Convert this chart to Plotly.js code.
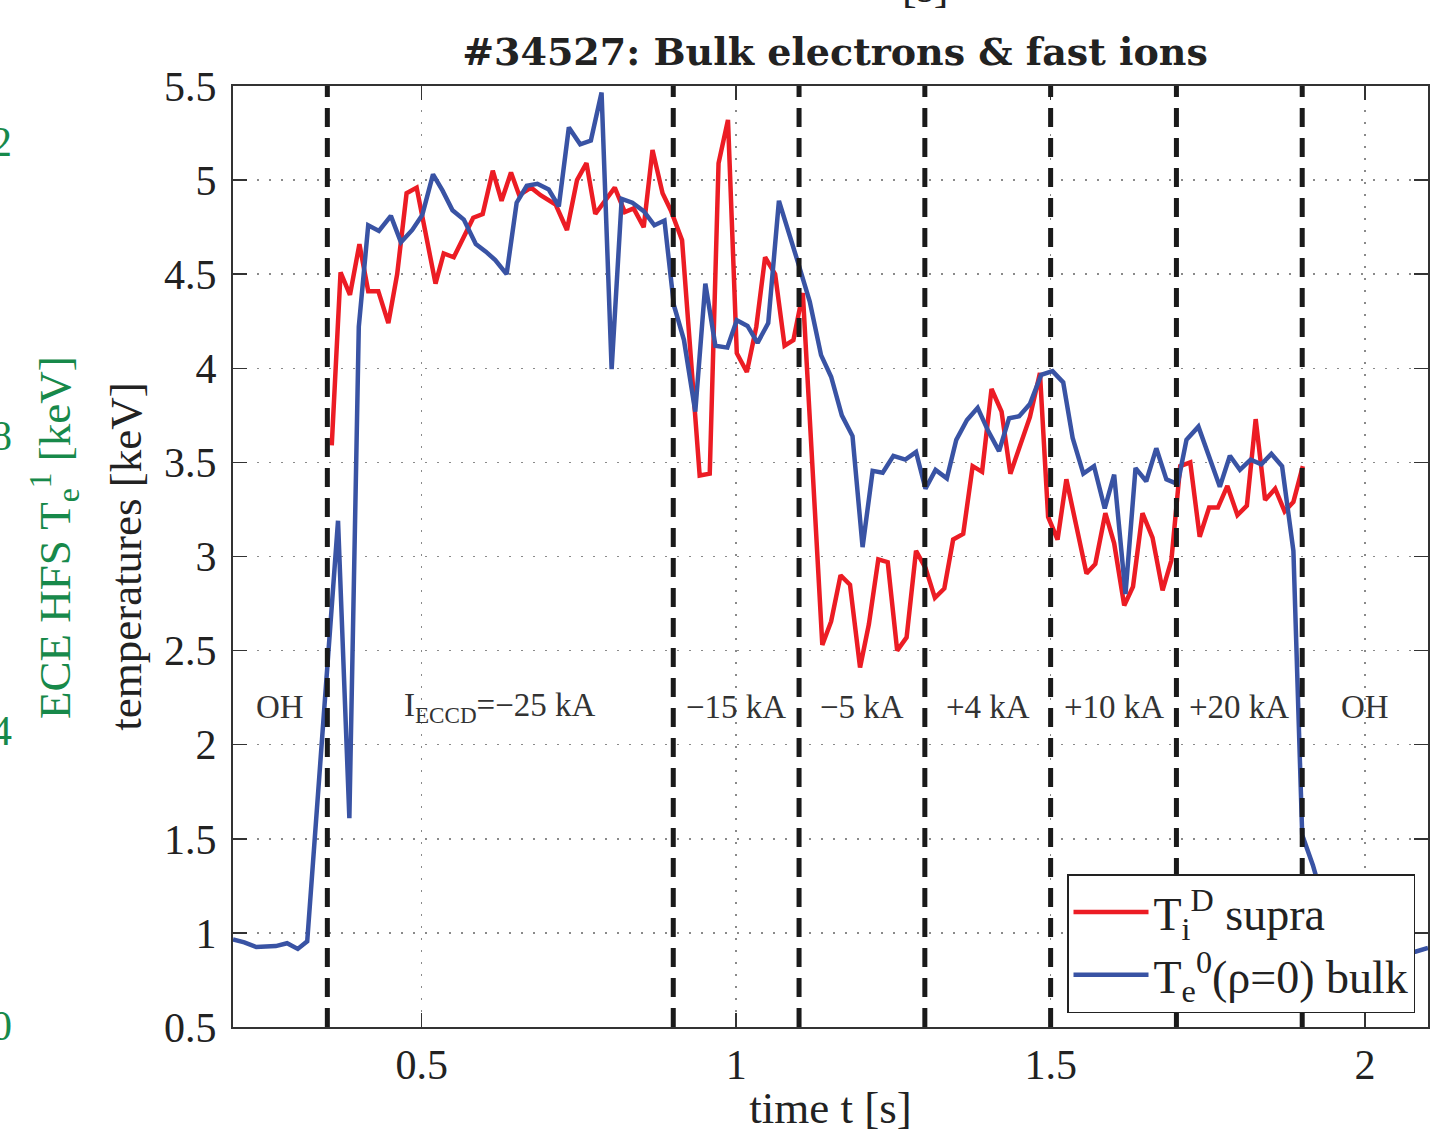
<!DOCTYPE html>
<html>
<head>
<meta charset="utf-8">
<script src="https://cdn.plot.ly/plotly-3.0.1.min.js"></script>
<style>html,body{margin:0;padding:0;background:#fff;}#chart{width:1437px;height:1133px;}</style>
</head>
<body>
<div id="chart"></div>
<script>
// ---- data ----
const ionTime = [0.357,0.371,0.386,0.401,0.415,0.431,0.447,0.461,0.476,0.492,0.522,0.535,0.551,0.582,0.597,0.613,0.627,0.642,0.655,0.674,0.689,0.713,0.731,0.747,0.762,0.776,0.807,0.823,0.837,0.853,0.867,0.883,0.896,0.914,0.942,0.958,0.972,0.987,1.001,1.017,1.032,1.046,1.062,1.077,1.091,1.106,1.137,1.151,1.166,1.181,1.197,1.211,1.226,1.241,1.256,1.271,1.286,1.301,1.316,1.331,1.345,1.361,1.376,1.391,1.406,1.422,1.436,1.467,1.483,1.496,1.511,1.525,1.557,1.571,1.587,1.601,1.617,1.631,1.646,1.662,1.678,1.692,1.706,1.722,1.737,1.752,1.766,1.781,1.797,1.812,1.826,1.841,1.857,1.872,1.886,1.901];
const ionTemp = [3.59,4.51,4.39,4.66,4.41,4.41,4.24,4.50,4.93,4.96,4.45,4.61,4.59,4.80,4.82,5.05,4.89,5.04,4.92,4.96,4.92,4.87,4.735,5.00,5.09,4.82,4.96,4.83,4.85,4.75,5.16,4.93,4.84,4.68,3.43,3.44,5.09,5.32,4.08,3.98,4.22,4.59,4.50,4.12,4.15,4.40,2.53,2.655,2.90,2.85,2.41,2.64,2.985,2.97,2.50,2.57,3.03,2.94,2.78,2.83,3.09,3.12,3.48,3.45,3.89,3.77,3.44,3.74,3.975,3.21,3.09,3.41,2.91,2.96,3.23,3.07,2.74,2.84,3.23,3.10,2.82,2.98,3.48,3.50,3.105,3.26,3.26,3.375,3.22,3.27,3.73,3.30,3.36,3.24,3.29,3.48];

const elecTime = [0.200,0.218,0.237,0.253,0.268,0.286,0.303,0.318,0.367,0.385,0.400,0.415,0.432,0.451,0.467,0.485,0.501,0.518,0.533,0.549,0.567,0.586,0.602,0.617,0.635,0.651,0.667,0.684,0.702,0.718,0.734,0.752,0.769,0.786,0.802,0.818,0.835,0.853,0.870,0.886,0.901,0.917,0.935,0.951,0.967,0.986,1.001,1.018,1.034,1.051,1.068,1.099,1.117,1.135,1.151,1.168,1.185,1.201,1.217,1.233,1.250,1.269,1.286,1.301,1.317,1.335,1.350,1.367,1.384,1.401,1.418,1.434,1.450,1.467,1.485,1.503,1.520,1.535,1.552,1.569,1.586,1.601,1.619,1.635,1.652,1.668,1.684,1.702,1.716,1.735,1.769,1.785,1.801,1.818,1.835,1.851,1.868,1.886,1.900,1.917,1.935,1.955,1.980,2.020,2.060,2.080,2.100];
const elecTemp = [0.965,0.95,0.925,0.93,0.93,0.945,0.915,0.955,3.19,1.61,4.22,4.76,4.73,4.81,4.67,4.735,4.815,5.03,4.945,4.84,4.79,4.66,4.62,4.575,4.50,4.88,4.97,4.98,4.95,4.86,5.28,5.19,5.21,5.465,3.995,4.90,4.88,4.835,4.76,4.785,4.335,4.15,3.77,4.45,4.12,4.11,4.255,4.225,4.135,4.24,4.89,4.555,4.355,4.07,3.955,3.75,3.64,3.05,3.455,3.445,3.535,3.515,3.555,3.36,3.46,3.415,3.62,3.725,3.79,3.665,3.56,3.735,3.745,3.81,3.965,3.985,3.925,3.63,3.44,3.48,3.255,3.435,2.80,3.47,3.40,3.575,3.41,3.385,3.62,3.69,3.37,3.535,3.46,3.515,3.49,3.545,3.48,3.03,1.52,1.36,1.15,0.97,0.92,0.90,0.90,0.90,0.92];

const phaseBoundaries = [0.35, 0.9, 1.1, 1.3, 1.5, 1.7, 1.9];
const phaseLabels = ["OH", "I<sub>ECCD</sub>=\u221225 kA", "\u221215 kA", "\u22125 kA", "+4 kA", "+10 kA", "+20 kA", "OH"];
const xTickVals = [0.5, 1, 1.5, 2];
const xTickText = ["0.5", "1", "1.5", "2"];
const yTickVals = [0.5,1,1.5,2,2.5,3,3.5,4,4.5,5,5.5];
const yTickText = ["0.5","1","1.5","2","2.5","3","3.5","4","4.5","5","5.5"];
const eceTickVals = [0, 4, 8, 12];
const eceTickText = ["0", "4", "8", "12"];
const xRange = [0.2, 2.1];
const yRange = [0.5, 5.5];

// ---- layout helpers ----
const W = 1437, H = 1133;
const M = {l: 12, r: 9, t: 86, b: 106};
const pw = W - M.l - M.r, ph = H - M.t - M.b;
const px2x = p => (p - M.l) / pw;
const py2y = p => (H - M.b - p) / ph;

const FONT = "Liberation Serif, Times New Roman, serif";
const TXT = "#222";
const GREEN = "#17894a";

const traces = [
  {x: ionTime, y: ionTemp, type: "scatter", mode: "lines", name: "T<sub>i</sub><sup>D</sup> supra",
   line: {color: "#ec1c24", width: 4.5}},
  {x: elecTime, y: elecTemp, type: "scatter", mode: "lines", name: "T<sub>e</sub><sup>0</sup>(\u03c1=0) bulk",
   line: {color: "#3953a4", width: 4.5}},
  {x: [], y: [], type: "scatter", mode: "lines", yaxis: "y2", showlegend: false, hoverinfo: "skip"}
];

const shapes = phaseBoundaries.map(b => ({
  type: "line", xref: "x", yref: "paper", x0: b, x1: b, y0: 0, y1: 1,
  line: {color: "#1a1a1a", width: 5, dash: "19px,11px"}, layer: "above"
}));

// phase labels centred between boundaries
const edges = [xRange[0]].concat(phaseBoundaries, [xRange[1]]);
const annotations = phaseLabels.map((t, i) => ({
  x: (edges[i] + edges[i+1]) / 2, y: 2.2, xref: "x", yref: "y",
  text: t, showarrow: false, xanchor: "center", yanchor: "middle",
  font: {family: FONT, size: 33, color: "#333"}
}));
annotations.push({
  xref: "paper", yref: "paper", x: px2x(54), y: py2y(538), textangle: -90,
  text: "ECE HFS T<sub>e</sub><sup>1</sup> [keV]", showarrow: false,
  xanchor: "center", yanchor: "middle", font: {family: FONT, size: 45, color: GREEN}
});
annotations.push({
  xref: "paper", yref: "paper", x: px2x(925), y: py2y(14), yanchor: "bottom", xanchor: "center",
  text: "[s]", showarrow: false, font: {family: FONT, size: 44, color: TXT}
});

const layout = {
  width: W, height: H,
  margin: M,
  paper_bgcolor: "#fff", plot_bgcolor: "#fff",
  showlegend: true,
  title: {text: "#34527: Bulk electrons & fast ions", xref: "container", yref: "container",
          x: 835 / W, y: 1 - 52 / H, xanchor: "center", yanchor: "middle",
          font: {family: "DejaVu Serif, serif", size: 38, color: TXT, weight: "bold"}},
  xaxis: {
    domain: [px2x(233), 1], range: xRange, tickmode: "array", tickvals: xTickVals, ticktext: xTickText,
    showline: true, linecolor: "#333", linewidth: 2, mirror: "ticks",
    ticks: "inside", ticklen: 14, tickwidth: 1.5, tickcolor: "#333",
    showgrid: true, gridcolor: "#8a8a8a", gridwidth: 1.5, griddash: "2px,10px",
    zeroline: false, ticklabelstandoff: 0,
    tickfont: {family: FONT, size: 42, color: TXT},
    title: {text: "time t [s]", standoff: 12, font: {family: FONT, size: 45, color: TXT}}
  },
  yaxis: {
    range: yRange, tickmode: "array", tickvals: yTickVals, ticktext: yTickText,
    showline: true, linecolor: "#333", linewidth: 2, mirror: "ticks",
    ticks: "inside", ticklen: 14, tickwidth: 1.5, tickcolor: "#333",
    showgrid: true, gridcolor: "#8a8a8a", gridwidth: 1.5, griddash: "2px,10px",
    zeroline: false, ticklabelstandoff: 6,
    tickfont: {family: FONT, size: 42, color: TXT},
    title: {text: "temperatures [keV]", standoff: 8, font: {family: FONT, size: 45, color: TXT}}
  },
  yaxis2: {
    overlaying: "y", anchor: "free", position: 0, side: "left",
    range: [(1025 - 1027) / 73.67, (1025 - 86) / 73.67],
    tickmode: "array", tickvals: eceTickVals, ticktext: eceTickText,
    showline: false, showgrid: false, zeroline: false, ticks: "",
    tickfont: {family: FONT, size: 42, color: GREEN}
  },
  legend: {
    x: px2x(1415), y: py2y(1013), xanchor: "right", yanchor: "bottom",
    bgcolor: "#fff", bordercolor: "#222", borderwidth: 1.5,
    font: {family: FONT, size: 46, color: TXT}, itemwidth: 75, tracegroupgap: 0
  },
  shapes: shapes,
  annotations: annotations
};

Plotly.newPlot("chart", traces, layout, {staticPlot: true, displayModeBar: false});
</script>
</body>
</html>
